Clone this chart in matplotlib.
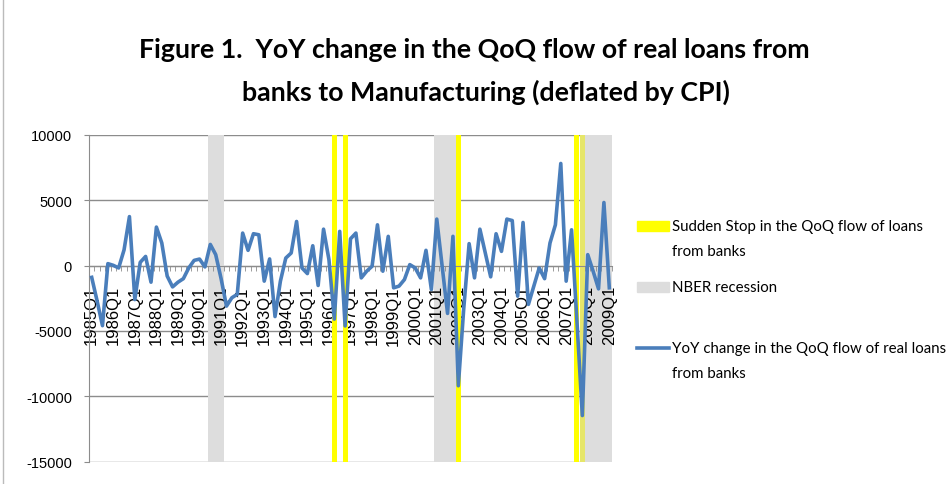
import matplotlib
matplotlib.use("Agg")
import matplotlib.pyplot as plt
from matplotlib.patches import Rectangle
from matplotlib.lines import Line2D

# quarterly categories 1985Q1 .. 2009Q1
quarters = [f"{y}Q{q}" for y in range(1985, 2010) for q in range(1, 5)][:97]

yoy_change = [
    -900, -2700, -4600, 150, 20, -180, 1200, 3750, -2600, 250,
    700, -1270, 2950, 1730, -800, -1630, -1270, -1000, -180, 400,
    500, -100, 1620, 840, -1000, -3100, -2460, -2200, 2490, 1170,
    2440, 2360, -1190, 510, -3900, -1190, 580, 965, 3380, -180,
    -610, 1520, -1520, 2790, 460, -4100, 2620, -4620, 2050, 2490,
    -940, -430, -50, 3120, -430, 2240, -1700, -1570, -1070, 75,
    -180, -940, 1170, -1830, 3560, -50, -3660, 2240, -9200, -3300,
    1680, -940, 2790, 965, -860, 2440, 1090, 3560, 3450, -2340,
    3300, -2970, -1570, -180, -1000, 1730, 3120, 7820, -1190, 2740,
    -4300, -11480, 840, -430, -1780, 4830, -1700,
]

sudden_stop = ["1996Q2", "1996Q4", "2002Q1", "2007Q3", "2007Q4"]
nber_recession = ["1990Q3", "1990Q4", "1991Q1",
                  "2001Q1", "2001Q2", "2001Q3", "2001Q4",
                  "2007Q4", "2008Q1", "2008Q2", "2008Q3", "2008Q4", "2009Q1"]

y_ticks = [10000, 5000, 0, -5000, -10000, -15000]
ymin, ymax = -15000, 10000

blue = "#4A7EBB"
yellow = "#FFFF00"
grey_band = "#DDDDDD"
axis_grey = "#8C8C8C"

W, H = 948, 485
fig = plt.figure(figsize=(W / 100, H / 100), dpi=100)
ax = fig.add_axes([89 / W, 1 - 462.5 / H, (612 - 89) / W, (462.5 - 136) / H])

x = list(range(len(quarters)))
rec_x = [quarters.index(q) for q in nber_recession]
ss_x = [quarters.index(q) for q in sudden_stop]
ss_col = ["#E6E66A" if q in nber_recession else yellow for q in sudden_stop]

ax.bar(rec_x, ymax - ymin, bottom=ymin, width=1.0, color=grey_band, zorder=1)
ax.bar(ss_x, ymax - ymin, bottom=ymin, width=0.93, color=ss_col, zorder=2)
ax.plot(x, yoy_change, color=blue, lw=2.6, zorder=4, solid_joinstyle="round")

ax.set_xlim(-0.5, len(quarters) - 0.5)
ax.set_ylim(ymin, ymax)
ax.set_yticks(y_ticks)
ax.set_yticklabels([str(v) for v in y_ticks])
for v in y_ticks:
    ax.axhline(v, color=axis_grey, lw=1, zorder=0)

for s in ["top", "right"]:
    ax.spines[s].set_visible(False)
ax.spines["left"].set_color(axis_grey)
ax.spines["bottom"].set_color(axis_grey)
ax.spines["bottom"].set_position(("data", 0))
ax.spines["bottom"].set_zorder(3)

ax.set_xticks(x[::4])
ax.set_xticklabels(quarters[::4], rotation=90, family="Liberation Sans",
                   fontsize=12, va="top", ha="center")
ax.set_xticks([i - 0.5 for i in x] + [len(x) - 0.5], minor=True)
ax.tick_params(axis="x", which="major", length=0, pad=14)
ax.tick_params(axis="x", which="minor", length=3.6, color=axis_grey, direction="out")
ax.tick_params(axis="y", length=3.6, color=axis_grey, pad=8.6, labelsize=10.5)
for t in ax.get_yticklabels():
    t.set_family("Liberation Sans")

# title
tfont = dict(family="Lato", weight="bold", fontsize=19.3, ha="center", va="center")
fig.text(474 / W, 1 - 50 / H, "Figure 1.  YoY change in the QoQ flow of real loans from", **tfont)
fig.text(486 / W, 1 - 92 / H, "banks to Manufacturing (deflated by CPI)", **tfont)

# legend
lfont = dict(family="Lato", fontsize=10.8, ha="left", va="center")
fig.patches.append(Rectangle((637 / W, 1 - 232 / H), 32 / W, 10 / H,
                             transform=fig.transFigure, color=yellow))
fig.text(672 / W, 1 - 227 / H, "Sudden Stop in the QoQ flow of loans", **lfont)
fig.text(672 / W, 1 - 252 / H, "from banks", **lfont)
fig.patches.append(Rectangle((637 / W, 1 - 293 / H), 32 / W, 10 / H,
                             transform=fig.transFigure, color=grey_band))
fig.text(672 / W, 1 - 288 / H, "NBER recession", **lfont)
fig.lines.append(Line2D([637 / W, 669 / W], [1 - 349 / H, 1 - 349 / H],
                        transform=fig.transFigure, color=blue, lw=2.6))
fig.text(672 / W, 1 - 349 / H, "YoY change in the QoQ flow of real loans", **lfont)
fig.text(672 / W, 1 - 374 / H, "from banks", **lfont)

# chart area border
fig.lines.append(Line2D([3 / W, 3 / W], [0, 1], transform=fig.transFigure,
                        color="#BBBBBB", lw=1))

fig.savefig("out.png", dpi=100)
